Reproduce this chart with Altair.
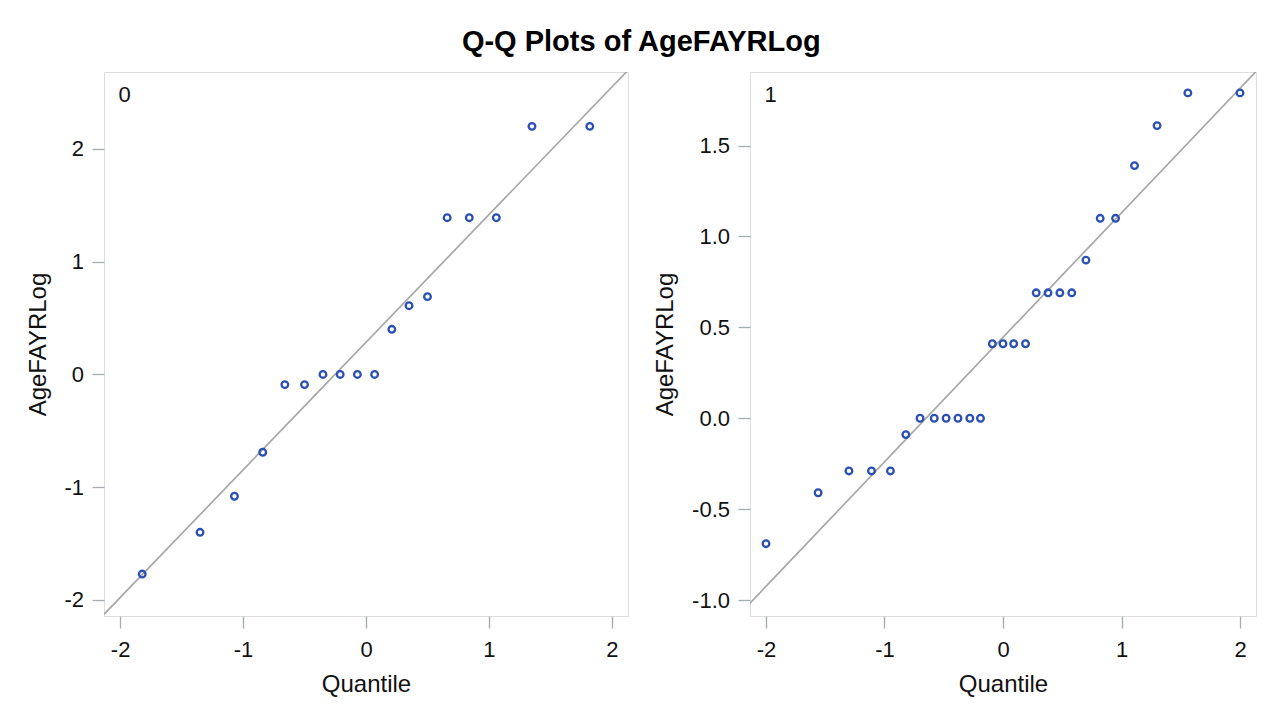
import altair as alt
import pandas as pd

# ---- data ----
groups = ["0", "1"]

# group 0: normal quantile vs AgeFAYRLog
q0 = [-1.82, -1.35, -1.07, -0.84, -0.66, -0.50, -0.35, -0.21, -0.07,
      0.07, 0.21, 0.35, 0.50, 0.66, 0.84, 1.06, 1.35, 1.82]
v0 = [-1.77, -1.40, -1.08, -0.69, -0.09, -0.09, 0.00, 0.00, 0.00,
      0.00, 0.40, 0.61, 0.69, 1.39, 1.39, 1.39, 2.20, 2.20]

# group 1
q1 = [-2.00, -1.56, -1.30, -1.11, -0.95, -0.82, -0.70, -0.58, -0.48,
      -0.38, -0.28, -0.19, -0.09, 0.00, 0.09, 0.19, 0.28, 0.38,
      0.48, 0.58, 0.70, 0.82, 0.95, 1.11, 1.30, 1.56, 2.00]
v1 = [-0.69, -0.41, -0.29, -0.29, -0.29, -0.09, 0.00, 0.00, 0.00,
      0.00, 0.00, 0.00, 0.41, 0.41, 0.41, 0.41, 0.69, 0.69,
      0.69, 0.69, 0.87, 1.10, 1.10, 1.39, 1.61, 1.79, 1.79]

# reference line (mu + sigma * quantile) per group
mu = [0.285, 0.445]
sigma = [1.132, 0.685]

x_domains = [[-2.131, 2.131], [-2.135, 2.135]]
y_domains = [[-2.142, 2.682], [-1.088, 1.905]]
x_ticks = [-2, -1, 0, 1, 2]
y_ticks = [[-2, -1, 0, 1, 2], [-1.0, -0.5, 0.0, 0.5, 1.0, 1.5]]
y_formats = ["d", ".1f"]
y_title_x = [-58.5, -77.2]
widths = [524, 506]
HEIGHT = 544

FONT = "Liberation Sans"
FRAME = "#A3ABB1"
LINE = "#A8A8A8"
BLUE = "#2A50B4"
TEXT = "#111111"
HYPHEN = "replace(datum.label, '\u2212', '-')"


def panel(i, qs, vs):
    pts = pd.DataFrame({"Quantile": qs, "AgeFAYRLog": vs})
    xd = x_domains[i]
    ref = pd.DataFrame({"Quantile": xd,
                        "AgeFAYRLog": [mu[i] + sigma[i] * v for v in xd]})
    xs = alt.Scale(domain=xd, nice=False, zero=False)
    ys = alt.Scale(domain=y_domains[i], nice=False, zero=False)
    xaxis = alt.Axis(values=x_ticks, format="d", labelExpr=HYPHEN,
                     title="Quantile",
                     grid=False, domain=False, tickSize=12, tickColor=FRAME,
                     tickWidth=1.3, labelPadding=11, labelFontSize=22,
                     labelFlush=False, labelColor=TEXT, labelFont=FONT,
                     titleFont=FONT, titleFontSize=24, titleFontWeight="normal",
                     titleColor=TEXT, titleBaseline="alphabetic", titleY=75.3)
    yaxis = alt.Axis(values=y_ticks[i], format=y_formats[i], labelExpr=HYPHEN,
                     title="AgeFAYRLog",
                     grid=False, domain=False, tickSize=12, tickColor=FRAME,
                     tickWidth=1.3, labelPadding=8.5, labelFontSize=22,
                     labelFlush=False, labelColor=TEXT, labelFont=FONT,
                     titleFont=FONT, titleFontSize=24, titleFontWeight="normal",
                     titleColor=TEXT, titleBaseline="alphabetic",
                     titleX=y_title_x[i], titleY=HEIGHT / 2)
    line = alt.Chart(ref).mark_line(clip=True, color=LINE, strokeWidth=1.7).encode(
        x=alt.X("Quantile:Q", scale=xs, axis=xaxis),
        y=alt.Y("AgeFAYRLog:Q", scale=ys, axis=yaxis),
    )
    dots = alt.Chart(pts).mark_point(shape="circle", filled=False, size=44,
                                     strokeWidth=2.3, color=BLUE, opacity=1).encode(
        x=alt.X("Quantile:Q", scale=xs, axis=xaxis),
        y=alt.Y("AgeFAYRLog:Q", scale=ys, axis=yaxis),
    )
    return alt.layer(line, dots).properties(
        width=widths[i], height=HEIGHT,
        title=alt.TitleParams(groups[i], anchor="start", frame="group",
                              dx=14.5, offset=-35,
                              fontSize=22, fontWeight="normal", font=FONT,
                              color=TEXT),
    )


chart = alt.hconcat(panel(0, q0, v0), panel(1, q1, v1), spacing=122,
                    bounds="flush").properties(
    title=alt.TitleParams("Q-Q Plots of AgeFAYRLog", fontSize=29,
                          fontWeight="bold", anchor="middle", offset=15,
                          font=FONT, color="#000000"),
    padding={"left": 18, "top": 19, "right": 5, "bottom": 5},
).configure_view(stroke=FRAME, strokeWidth=1.8).configure(background="white")

chart.save("out.html", embed_options={"renderer": "svg", "actions": False})
